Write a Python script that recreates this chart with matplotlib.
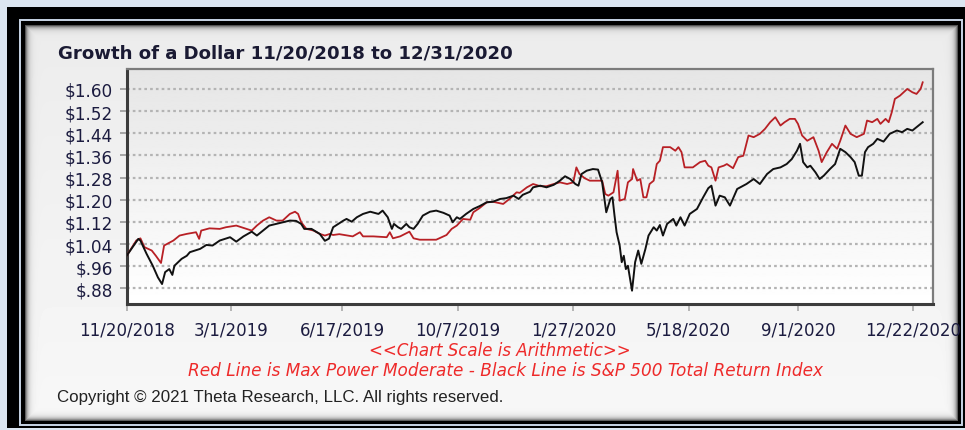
import numpy as np
import matplotlib
matplotlib.use("Agg")
import matplotlib.pyplot as plt
from matplotlib.patches import Rectangle

# ---------------- data ----------------
start_date = np.datetime64("2018-11-20")
end_axis_days = 782

black_days = [0, 11, 13, 19, 25, 30, 34, 37, 41, 44, 46, 53, 58, 61, 71, 77, 83, 90, 100, 106,
              113, 121, 126, 132, 138, 148, 158, 164, 169, 172, 179, 187, 192, 196, 200, 210, 213,
              218, 223, 229, 236, 244, 248, 253, 257, 259, 263, 266, 271, 274, 278, 282, 287, 294,
              300, 307, 313, 316, 320, 323, 329, 336, 342, 349, 355, 362, 368, 375, 380, 384, 391,
              394, 401, 407, 414, 420, 425, 430, 435, 438, 441, 446, 452, 457, 461, 465, 469, 471,
              473, 475, 478, 480, 482, 484, 486, 490, 493, 496, 499, 503, 506, 511, 514, 517, 520,
              524, 530, 533, 537, 541, 546, 553, 559, 564, 567, 571, 575, 580, 585, 592, 601, 608,
              614, 621, 627, 634, 640, 645, 650, 653, 656, 660, 663, 668, 672, 676, 682, 687, 692,
              697, 702, 706, 710, 713, 716, 719, 724, 728, 734, 740, 747, 752, 757, 762, 766, 772]
black_vals = [1.000, 1.059, 1.053, 1.005, 0.962, 0.920, 0.896, 0.939, 0.950, 0.929, 0.962, 0.987,
              0.998, 1.011, 1.023, 1.037, 1.035, 1.053, 1.065, 1.049, 1.068, 1.085, 1.071, 1.089,
              1.107, 1.116, 1.125, 1.124, 1.113, 1.095, 1.095, 1.077, 1.052, 1.060, 1.101, 1.125,
              1.131, 1.121, 1.137, 1.149, 1.157, 1.149, 1.161, 1.137, 1.095, 1.113, 1.101, 1.095,
              1.113, 1.101, 1.095, 1.113, 1.143, 1.157, 1.161, 1.153, 1.143, 1.119, 1.137, 1.131,
              1.149, 1.167, 1.177, 1.191, 1.193, 1.203, 1.206, 1.215, 1.203, 1.218, 1.229, 1.245,
              1.251, 1.245, 1.254, 1.269, 1.285, 1.275, 1.257, 1.251, 1.293, 1.305, 1.311, 1.309,
              1.263, 1.155, 1.203, 1.209, 1.143, 1.083, 1.035, 0.975, 0.998, 0.950, 0.962, 0.872,
              0.975, 1.017, 0.969, 1.023, 1.071, 1.101, 1.089, 1.109, 1.071, 1.113, 1.131, 1.107,
              1.137, 1.107, 1.149, 1.167, 1.209, 1.242, 1.251, 1.179, 1.215, 1.209, 1.179, 1.239,
              1.257, 1.275, 1.257, 1.293, 1.311, 1.317, 1.329, 1.347, 1.377, 1.402, 1.336, 1.317,
              1.323, 1.299, 1.275, 1.287, 1.311, 1.329, 1.384, 1.372, 1.354, 1.336, 1.287, 1.287,
              1.372, 1.390, 1.402, 1.420, 1.410, 1.438, 1.450, 1.444, 1.456, 1.450, 1.462, 1.480]

red_days = [0, 9, 13, 17, 24, 28, 33, 36, 45, 51, 58, 67, 70, 72, 80, 90, 96, 106, 116, 121, 126,
            132, 138, 145, 151, 158, 163, 166, 169, 174, 181, 187, 192, 197, 200, 206, 219, 226,
            229, 239, 252, 255, 258, 265, 274, 278, 284, 300, 307, 310, 315, 320, 326, 333, 336,
            342, 349, 355, 365, 372, 378, 381, 388, 394, 401, 407, 414, 420, 427, 433, 436, 439,
            444, 449, 461, 464, 467, 472, 476, 478, 483, 486, 490, 491, 495, 498, 501, 504, 507,
            511, 514, 517, 520, 527, 532, 535, 538, 541, 549, 556, 561, 564, 567, 571, 574, 579,
            582, 588, 593, 598, 603, 608, 614, 619, 624, 629, 634, 638, 643, 648, 651, 655, 660,
            666, 671, 674, 679, 684, 689, 692, 697, 702, 708, 715, 718, 723, 728, 731, 736, 739,
            742, 745, 750, 757, 762, 766, 770, 772]
red_vals = [1.000, 1.053, 1.061, 1.029, 1.017, 0.998, 0.972, 1.035, 1.053, 1.071, 1.077, 1.083,
            1.059, 1.089, 1.097, 1.095, 1.101, 1.107, 1.095, 1.089, 1.107, 1.125, 1.137, 1.125,
            1.125, 1.149, 1.157, 1.149, 1.119, 1.095, 1.089, 1.077, 1.071, 1.077, 1.073, 1.076,
            1.068, 1.083, 1.068, 1.068, 1.065, 1.083, 1.061, 1.068, 1.085, 1.061, 1.056, 1.056,
            1.068, 1.073, 1.095, 1.107, 1.131, 1.128, 1.155, 1.170, 1.191, 1.193, 1.185, 1.206,
            1.227, 1.225, 1.245, 1.257, 1.249, 1.249, 1.257, 1.263, 1.257, 1.263, 1.317, 1.293,
            1.278, 1.269, 1.269, 1.221, 1.215, 1.227, 1.305, 1.197, 1.203, 1.263, 1.275, 1.311,
            1.269, 1.275, 1.209, 1.209, 1.257, 1.269, 1.329, 1.341, 1.390, 1.390, 1.377, 1.390,
            1.372, 1.317, 1.317, 1.336, 1.341, 1.323, 1.317, 1.269, 1.317, 1.323, 1.329, 1.314,
            1.354, 1.359, 1.432, 1.426, 1.438, 1.456, 1.480, 1.498, 1.468, 1.480, 1.492, 1.492,
            1.474, 1.432, 1.413, 1.426, 1.377, 1.336, 1.372, 1.402, 1.384, 1.413, 1.468, 1.438,
            1.426, 1.438, 1.486, 1.480, 1.492, 1.474, 1.492, 1.480, 1.516, 1.564, 1.576, 1.600,
            1.588, 1.582, 1.600, 1.624]

x_tick_dates = ["2018-11-20", "2019-03-01", "2019-06-17", "2019-10-07",
                "2020-01-27", "2020-05-18", "2020-09-01", "2020-12-22"]
x_tick_labels = ["11/20/2018", "3/1/2019", "6/17/2019", "10/7/2019",
                 "1/27/2020", "5/18/2020", "9/1/2020", "12/22/2020"]
y_ticks = [0.88, 0.96, 1.04, 1.12, 1.20, 1.28, 1.36, 1.44, 1.52, 1.60]
y_tick_labels = ["$.88", "$.96", "$1.04", "$1.12", "$1.20", "$1.28", "$1.36",
                 "$1.44", "$1.52", "$1.60"]
y_limits = (0.824, 1.672)

title_text = "Growth of a Dollar 11/20/2018 to 12/31/2020"
note1 = "<<Chart Scale is Arithmetic>>"
note2 = "Red Line is Max Power Moderate - Black Line is S&P 500 Total Return Index"
copyright_text = "Copyright \u00a9 2021 Theta Research, LLC. All rights reserved."

# ---------------- figure ----------------
W, H = 965, 431
fig = plt.figure(figsize=(W / 100, H / 100), dpi=100)
fig.patch.set_facecolor("#dce6f1")

bg = fig.add_axes([0, 0, 1, 1], zorder=0)
bg.axis("off")

# outer black frame with thin light inset line
bg.add_patch(Rectangle((7, 8), W - 7, 421, facecolor="black", edgecolor="none"))
bg.add_patch(Rectangle((19.5, 21), 942, 405, facecolor="none", edgecolor="#c9d5e6", lw=1.4))

# panel with inner shadow
px0, py0, px1, py1 = 25, 26, 958, 422
pw, ph = px1 - px0, py1 - py0
yy, xx = np.mgrid[0:ph, 0:pw]
base = 0.925 + 0.045 * (yy / ph)
d = np.minimum.reduce([xx, yy, pw - 1 - xx, ph - 1 - yy]).astype(float)
panel_img = np.clip(base - 0.6 * np.exp(-d / 2.5), 0, 1)
bg.imshow(panel_img, extent=(px0, px1, py1, py0), cmap="gray", vmin=0, vmax=1,
          aspect="auto", interpolation="bilinear", zorder=1)

# plot-area gradient
ax_l, ax_t, ax_r, ax_b = 127, 70, 933, 305
grad = np.linspace(0.90, 1.0, 200).reshape(-1, 1)
bg.imshow(grad, extent=(ax_l, ax_r, ax_b, ax_t), cmap="gray", vmin=0, vmax=1,
          aspect="auto", interpolation="bilinear", zorder=2)
bg.set_xlim(0, W)
bg.set_ylim(H, 0)

# ---------------- main axes ----------------
ax = fig.add_axes([ax_l / W, 1 - ax_b / H, (ax_r - ax_l) / W, (ax_b - ax_t) / H], zorder=2)
ax.patch.set_alpha(0)

bdates = start_date + np.array(black_days).astype("timedelta64[D]")
rdates = start_date + np.array(red_days).astype("timedelta64[D]")

ax.plot(rdates, red_vals, color="#b82025", lw=1.3, zorder=3)
ax.plot(bdates, black_vals, color="#111111", lw=1.4, zorder=4)

ax.set_xlim(start_date, start_date + np.timedelta64(end_axis_days, "D"))
ax.set_ylim(*y_limits)

ax.set_yticks(y_ticks)
ax.set_yticklabels(y_tick_labels)
ax.set_xticks([np.datetime64(d) for d in x_tick_dates])
ax.set_xticklabels(x_tick_labels)

ax.yaxis.grid(True, color="#b4b4b4", lw=1.6, linestyle=(0, (1.2, 1.4)))
ax.set_axisbelow(True)

ax.tick_params(axis="y", length=5, width=1.3, color="#a0a0a0", pad=5,
               labelsize=12.2, labelcolor="#1c1c40")
ax.tick_params(axis="x", length=5, width=1.3, color="#b0b0b0", pad=7,
               labelsize=12, labelcolor="#1c1c40")
for lab in ax.get_xticklabels() + ax.get_yticklabels():
    lab.set_family("DejaVu Sans")

for side in ("left", "bottom"):
    ax.spines[side].set_color("#3c3c3c")
    ax.spines[side].set_linewidth(2.2)
for side in ("top", "right"):
    ax.spines[side].set_color("#7c7c7c")
    ax.spines[side].set_linewidth(1.6)

# ---------------- texts ----------------
fig.text(58 / W, 1 - 59 / H, title_text, fontsize=13.1, fontweight="bold",
         color="#1a1a33", family="DejaVu Sans", va="baseline", ha="left", zorder=5)
fig.text(500 / W, 1 - 351 / H, note1, fontsize=12, style="italic", color="#ee2a2a",
         family="DejaVu Sans", ha="center", va="center", zorder=5)
fig.text(505 / W, 1 - 371 / H, note2, fontsize=12.2, style="italic", color="#ee2a2a",
         family="DejaVu Sans", ha="center", va="center", zorder=5)
fig.text(57 / W, 1 - 398 / H, copyright_text, fontsize=12.2, color="#222222",
         family="Liberation Sans", ha="left", va="center", zorder=5)

fig.savefig("out.png", dpi=100, facecolor=fig.get_facecolor())
